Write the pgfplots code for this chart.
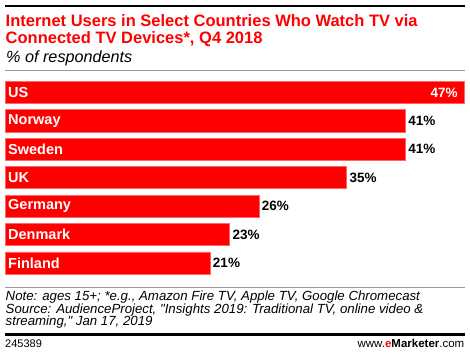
\documentclass[border=0pt]{standalone}
\usepackage{pgfplots}
\pgfplotsset{compat=1.18}
\usepackage{pgfplotstable}
\usepackage{fontspec}
\setmainfont{Liberation Sans}
\definecolor{emred}{HTML}{FF0000}
\definecolor{rulegray}{HTML}{9A9A9A}

\pgfplotstableread{
y x
5 41
4 41
3 35
2 26
1 23
0 21
}\others
\pgfplotstableread{
y x
6 47
}\ustable
\pgfplotstableread{
y name
6 US
5 Norway
4 Sweden
3 UK
2 Germany
1 Denmark
0 Finland
}\names

\begin{document}
\begin{tikzpicture}[x=1bp,y=1bp]
\path[use as bounding box] (0,0) rectangle (470,357);
% top rule
\fill[black] (5,357-7.3) rectangle (465,357-5);
% title
\node[anchor=base west, inner sep=0, text=emred, font=\fontsize{16.5bp}{17.3bp}\selectfont\bfseries] at (5.5,357-26) {Internet Users in Select Countries Who Watch TV via};
\node[anchor=base west, inner sep=0, text=emred, font=\fontsize{16.5bp}{17.3bp}\selectfont\bfseries] at (5.5,357-43.3) {Connected TV Devices*, Q4 2018};
\node[anchor=base west, inner sep=0, font=\fontsize{16.2bp}{17bp}\selectfont\itshape] at (6,357-62.5) {\% of respondents};
\draw[rulegray, line width=1bp] (5,357-70) -- (465,357-70);

\begin{axis}[
  at={(5bp,79.9bp)}, anchor=south west,
  scale only axis, width=459bp, height=198.8bp,
  xmin=0, xmax=47, ymin=-0.5, ymax=6.5,
  axis lines=none, clip=false,
  bar width=22bp, bar shift=0pt,
  /pgf/number format/assume math mode=true,
]
\addplot[xbar, fill=emred, draw=emred!60, line width=0.8bp,
  nodes near coords={\pgfmathprintnumber[assume math mode=true]{\pgfplotspointmeta}\%},
  point meta=x,
  nodes near coords align={anchor=west},
  every node near coord/.append style={font=\fontsize{13.5bp}{15bp}\selectfont\bfseries, text=black, inner sep=0, xshift=2.5bp}]
  table[x=x, y=y] {\others};
\addplot[xbar, fill=emred, draw=emred!60, line width=0.8bp,
  nodes near coords={\pgfmathprintnumber[assume math mode=true]{\pgfplotspointmeta}\%},
  point meta=x,
  nodes near coords align={anchor=east},
  every node near coord/.append style={font=\fontsize{13.5bp}{15bp}\selectfont\bfseries, text=white, inner sep=0, xshift=-6bp}]
  table[x=x, y=y] {\ustable};
\addplot[only marks, mark=none,
  nodes near coords, point meta=explicit symbolic,
  nodes near coords align={anchor=west},
  every node near coord/.append style={font=\fontsize{14.5bp}{16bp}\selectfont\bfseries, text=white, inner sep=0, xshift=3bp}]
  table[x expr=0, y=y, meta=name] {\names};
\end{axis}

% footer
\draw[rulegray, line width=1bp] (5,357-287) -- (465,357-287);
\node[anchor=base west, inner sep=0, font=\fontsize{13.25bp}{12.5bp}\selectfont\itshape] at (5.5,357-300.7) {Note: ages 15+; *e.g., Amazon Fire TV, Apple TV, Google Chromecast};
\node[anchor=base west, inner sep=0, font=\fontsize{13.25bp}{12.5bp}\selectfont\itshape] at (5.5,357-313.2) {Source: AudienceProject, \textquotedbl Insights 2019: Traditional TV, online video \&};
\node[anchor=base west, inner sep=0, font=\fontsize{13.25bp}{12.5bp}\selectfont\itshape] at (5.5,357-325.7) {streaming,\textquotedbl{} Jan 17, 2019};
\fill[black] (5,357-335.7) rectangle (465,357-333.3);
\node[anchor=base west, inner sep=0, font=\fontsize{11bp}{12bp}\selectfont] at (5,357-347.7) {245389};
\node[anchor=base east, inner sep=0, font=\fontsize{11.5bp}{12bp}\selectfont] at (464.5,357-347.7) {www.{\bfseries\textcolor{emred}{e}Marketer}.com};
\end{tikzpicture}
\end{document}
